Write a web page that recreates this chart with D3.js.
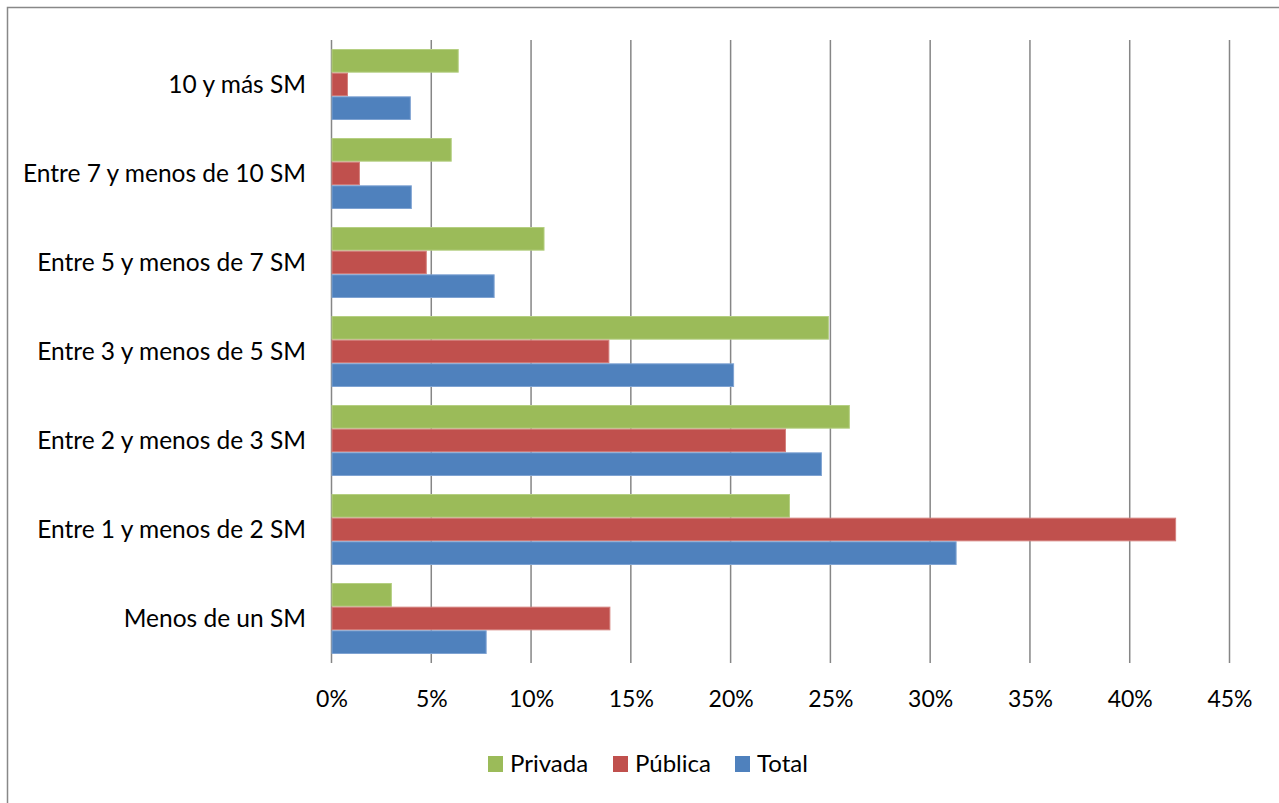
<!DOCTYPE html>
<html><head><meta charset="utf-8">
<script src="https://cdn.jsdelivr.net/npm/d3@7"></script>
<style>body{margin:0;background:#fff;} svg{display:block;font-family:Lato, "Open Sans", sans-serif;}</style>
</head><body>
<svg id="c" width="1279" height="803"></svg>
<script>
const categories = ["10 y más SM","Entre 7 y menos de 10 SM","Entre 5 y menos de 7 SM","Entre 3 y menos de 5 SM","Entre 2 y menos de 3 SM","Entre 1 y menos de 2 SM","Menos de un SM"];
const seriesNames = ["Privada","Pública","Total"];
const privada = [6.35, 6.0, 10.65, 24.9, 25.95, 22.95, 3.0];
const publica = [0.8, 1.4, 4.75, 13.9, 22.75, 42.3, 13.95];
const total = [3.95, 4.0, 8.15, 20.15, 24.55, 31.3, 7.75];
const tickValues = [0,5,10,15,20,25,30,35,40,45];
const colors = ["#9BBB59","#C0504D","#4F81BD"];
const strokes = ["#B5CF82","#D4807D","#7FA3D2"];

const svg = d3.select("#c");
svg.append("rect").attr("x",7.5).attr("y",7.5).attr("width",1290).attr("height",810).attr("fill","none").attr("stroke","#888").attr("stroke-width",1.5);

const x = d3.scaleLinear().domain([0,45]).range([331.5,1229.5]);
const y = d3.scaleBand().domain(categories).range([40,663]).paddingInner(18/89).paddingOuter(9/89);
const y1 = d3.scaleBand().domain(seriesNames).range([0,y.bandwidth()]);

// gridlines
svg.append("g").selectAll("line").data(tickValues).join("line")
  .attr("x1",d=>x(d)).attr("x2",d=>x(d)).attr("y1",40).attr("y2",663)
  .attr("stroke","#868686").attr("stroke-width",1.5);

const data = [privada, publica, total];
const g = svg.append("g");
seriesNames.forEach((s,si)=>{
  g.append("g").selectAll("rect").data(categories).join("rect")
    .attr("x",x(0)+0.5).attr("y",(c)=>y(c)+y1(s)+0.5)
    .attr("width",(c,i)=>x(data[si][i])-x(0)-0.5)
    .attr("height",y1.bandwidth()-1)
    .attr("fill",colors[si]).attr("stroke",strokes[si]).attr("stroke-width",1);
});

// category labels
svg.append("g").selectAll("text").data(categories).join("text")
  .attr("x",306).attr("y",c=>y(c)+y.bandwidth()/2).attr("dy","0.35em")
  .attr("text-anchor","end").attr("font-size",24.5).attr("fill","#000").text(c=>c);

// x axis labels
const xa = d3.axisBottom(x).tickValues(tickValues).tickFormat(d=>d+"%").tickSize(0).tickPadding(0);
const ax = svg.append("g").attr("transform","translate(0,691)").call(xa);
ax.select(".domain").remove();
ax.selectAll("text").attr("font-size",23).attr("fill","#000").attr("font-family","Lato, 'Open Sans', sans-serif");

// legend
const legX = [488,613,735];
const lg = svg.append("g");
seriesNames.forEach((s,i)=>{
  lg.append("rect").attr("x",legX[i]).attr("y",756).attr("width",15).attr("height",16).attr("fill",colors[i]);
  lg.append("text").attr("x",legX[i]+22).attr("y",764).attr("dy","0.35em").attr("font-size",24).attr("fill","#000").text(s);
});
</script>
</body></html>
